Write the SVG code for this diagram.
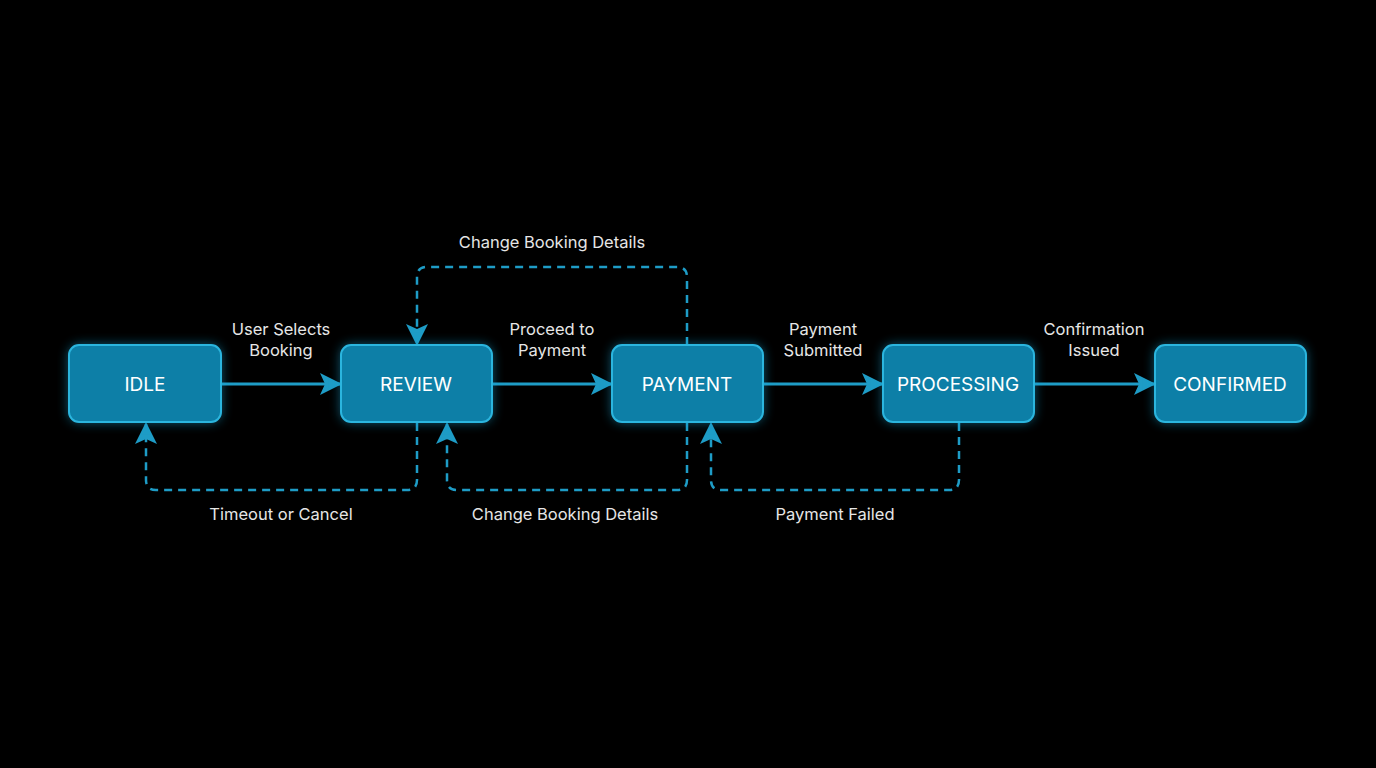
<svg xmlns="http://www.w3.org/2000/svg" width="1376" height="768" viewBox="0 0 1376 768">
<style>
.node{fill:#0d7fa7;stroke:#2bb5de;stroke-width:2}
.nt{font-family:Inter,"Liberation Sans",sans-serif;font-size:19px;fill:#fff;text-anchor:middle}
.lb{font-family:Inter,"Liberation Sans",sans-serif;font-size:16.5px;fill:#e6e6e6;text-anchor:middle}
.s{fill:none;stroke:#1e9cc6;stroke-width:3}
.d{fill:none;stroke:#1e9cc6;stroke-width:2.5;stroke-dasharray:8 6}
</style>
<defs>
<filter id="glow" x="-30%" y="-30%" width="160%" height="160%"><feGaussianBlur stdDeviation="6"/></filter>
<marker id="a" viewBox="0 0 22 22" refX="20" refY="11" markerWidth="22" markerHeight="22" markerUnits="userSpaceOnUse" orient="auto"><path d="M0,0 L22,11 L0,22 L5,11 z" fill="#1e9cc6"/></marker>
</defs>
<rect width="1376" height="768" fill="#000"/>
<g id="connectors">
<path class="s" d="M221,384 H340" marker-end="url(#a)"/>
<path class="s" d="M492,384 H611" marker-end="url(#a)"/>
<path class="s" d="M763,384 H882" marker-end="url(#a)"/>
<path class="s" d="M1034,384 H1154" marker-end="url(#a)"/>
<path class="d" d="M687,345 V277 Q687,267 677,267 H427 Q417,267 417,277 V344" marker-end="url(#a)"/>
<path class="d" d="M417,423 V480 Q417,490 407,490 H156 Q146,490 146,480 V424" marker-end="url(#a)"/>
<path class="d" d="M687,423 V480 Q687,490 677,490 H457 Q447,490 447,480 V424" marker-end="url(#a)"/>
<path class="d" d="M959,423 V480 Q959,490 949,490 H721 Q711,490 711,480 V424" marker-end="url(#a)"/>
<text class="lb" x="281" y="335">User Selects</text>
<text class="lb" x="281" y="356">Booking</text>
<text class="lb" x="552" y="335">Proceed to</text>
<text class="lb" x="552" y="356">Payment</text>
<text class="lb" x="823" y="335">Payment</text>
<text class="lb" x="823" y="356">Submitted</text>
<text class="lb" x="1094" y="335">Confirmation</text>
<text class="lb" x="1094" y="356">Issued</text>
<text class="lb" x="552" y="248">Change Booking Details</text>
<text class="lb" x="281" y="520">Timeout or Cancel</text>
<text class="lb" x="565" y="520">Change Booking Details</text>
<text class="lb" x="835" y="520">Payment Failed</text>
</g>
<g id="idle"><rect x="69" y="345" width="152" height="77" rx="10" fill="#1aa8d8" filter="url(#glow)" opacity="0.6"/><rect class="node" x="69" y="345" width="152" height="77" rx="10"/><text class="nt" x="145" y="391">IDLE</text></g>
<g id="review"><rect x="341" y="345" width="151" height="77" rx="10" fill="#1aa8d8" filter="url(#glow)" opacity="0.6"/><rect class="node" x="341" y="345" width="151" height="77" rx="10"/><text class="nt" x="416" y="391">REVIEW</text></g>
<g id="payment"><rect x="612" y="345" width="151" height="77" rx="10" fill="#1aa8d8" filter="url(#glow)" opacity="0.6"/><rect class="node" x="612" y="345" width="151" height="77" rx="10"/><text class="nt" x="687" y="391">PAYMENT</text></g>
<g id="processing"><rect x="883" y="345" width="151" height="77" rx="10" fill="#1aa8d8" filter="url(#glow)" opacity="0.6"/><rect class="node" x="883" y="345" width="151" height="77" rx="10"/><text class="nt" x="958" y="391">PROCESSING</text></g>
<g id="confirmed"><rect x="1155" y="345" width="151" height="77" rx="10" fill="#1aa8d8" filter="url(#glow)" opacity="0.6"/><rect class="node" x="1155" y="345" width="151" height="77" rx="10"/><text class="nt" x="1230" y="391">CONFIRMED</text></g>
</svg>
